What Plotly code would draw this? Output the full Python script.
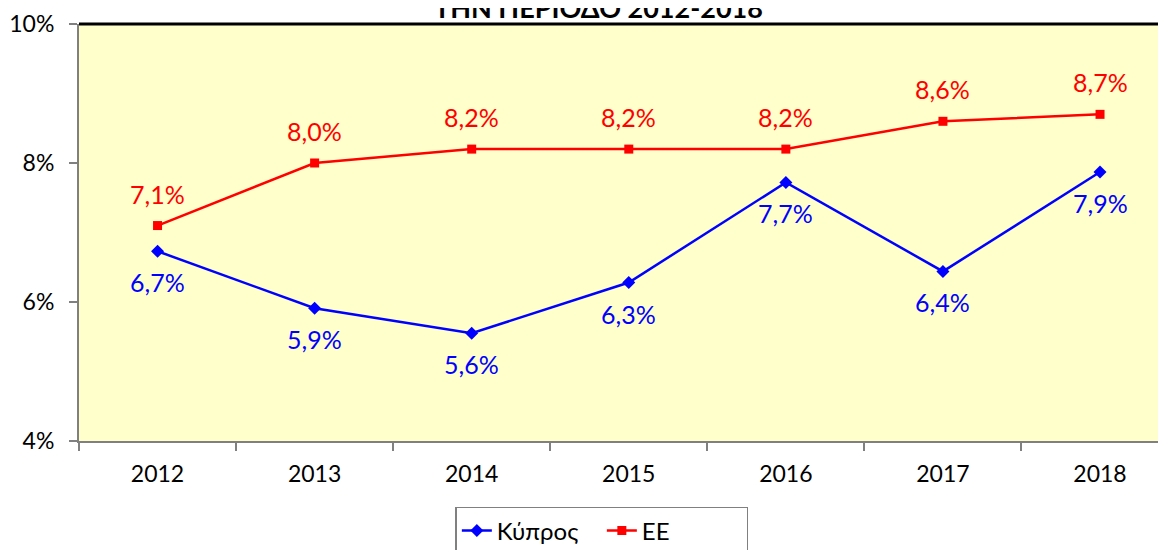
import plotly.graph_objects as go

years = ["2012", "2013", "2014", "2015", "2016", "2017", "2018"]
cyprus = [6.73, 5.91, 5.55, 6.28, 7.72, 6.44, 7.87]
eu = [7.1, 8.0, 8.2, 8.2, 8.2, 8.6, 8.7]
cyprus_labels = ["6,7%", "5,9%", "5,6%", "6,3%", "7,7%", "6,4%", "7,9%"]
eu_labels = ["7,1%", "8,0%", "8,2%", "8,2%", "8,2%", "8,6%", "8,7%"]
series_names = ["Κύπρος", "ΕΕ"]
title_text = "ΤΗΝ ΠΕΡΙΟΔΟ 2012-2018"

FONT = "Lato, 'Open Sans', 'Noto Sans', sans-serif"
BLUE = "#0000FF"
RED = "#FF0000"

fig = go.Figure()
fig.add_trace(go.Scatter(
    x=years, y=cyprus, name=series_names[0], mode="lines+markers",
    line=dict(color=BLUE, width=2.5),
    marker=dict(symbol="diamond", size=10, color=BLUE),
))
fig.add_trace(go.Scatter(
    x=years, y=eu, name=series_names[1], mode="lines+markers",
    line=dict(color=RED, width=2.5),
    marker=dict(symbol="square", size=9, color=RED),
))

annotations = []
for i, (y, t) in enumerate(zip(cyprus, cyprus_labels)):
    annotations.append(dict(x=i, y=y, xref="x", yref="y", text=t, showarrow=False, yshift=-31,
                            font=dict(family=FONT, size=25, color=BLUE)))
for i, (y, t) in enumerate(zip(eu, eu_labels)):
    annotations.append(dict(x=i, y=y, xref="x", yref="y", text=t, showarrow=False, yshift=32,
                            font=dict(family=FONT, size=25, color=RED)))
annotations.append(dict(xref="paper", yref="paper", x=0.4775, y=0.995,
                        xanchor="center", yanchor="bottom", showarrow=False,
                        text="<b>" + title_text + "</b>",
                        font=dict(family=FONT, size=27, color="#000000")))

fig.update_layout(
    width=1158, height=542,
    margin=dict(l=71, r=0, t=16, b=109, autoexpand=False),
    paper_bgcolor="white",
    plot_bgcolor="#FFFFCC",
    font=dict(family=FONT, size=23, color="#000000"),
    annotations=annotations,
    showlegend=True,
    legend=dict(orientation="h", x=0.481, xanchor="center", y=-0.158, yanchor="top",
                bordercolor="#808080", borderwidth=1.5, bgcolor="white",
                font=dict(family=FONT, size=24), entrywidth=100,
                tracegroupgap=0),
    shapes=[dict(type="line", xref="paper", yref="paper", x0=0, x1=1, y0=1, y1=1,
                 line=dict(color="#000000", width=3))],
)
fig.update_xaxes(
    type="category", range=[-0.5, 6.42], showgrid=False,
    showline=True, linecolor="#808080", linewidth=2,
    ticks="outside", tickson="boundaries", ticklen=8, tickcolor="#808080", tickwidth=2,
    ticklabelstandoff=11,
    tickfont=dict(family=FONT, size=23),
)
fig.update_yaxes(
    range=[4, 10], dtick=2, ticksuffix="%", showgrid=False, zeroline=False,
    showline=True, linecolor="#808080", linewidth=2,
    ticks="outside", ticklen=8, tickcolor="#808080", tickwidth=2,
    ticklabelstandoff=10,
    tickfont=dict(family=FONT, size=23),
)

fig.write_html("out.html")
